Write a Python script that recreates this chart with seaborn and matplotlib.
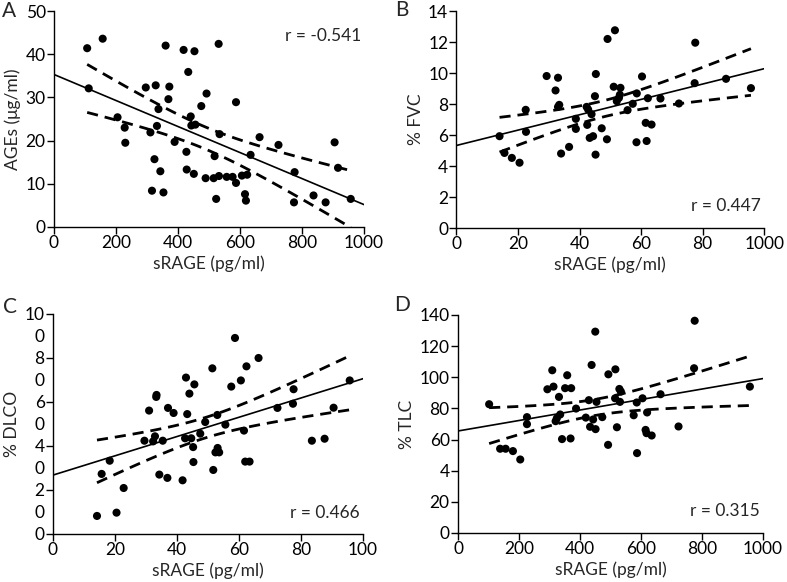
import numpy as np
import seaborn as sns
import matplotlib
matplotlib.use("Agg")
import matplotlib.pyplot as plt

# ---- data ----
# A: sRAGE (pg/ml) vs AGEs (ug/ml)
a_x = [107, 157, 112, 360, 418, 453, 531, 433, 296, 328, 372, 369, 337, 492, 475, 587,
       205, 228, 230, 311, 332, 389, 441, 443, 456, 534, 663, 724, 905, 916, 634, 518,
       427, 324, 343, 428, 451, 489, 515, 532, 557, 576, 587, 606, 623, 616, 619, 523,
       316, 353, 776, 774, 837, 876, 957]
a_y = [41.4, 43.6, 32.1, 42.0, 41.0, 40.7, 42.4, 35.9, 32.3, 32.8, 32.5, 29.6, 27.3, 30.9, 28.0, 28.9,
       25.4, 23.0, 19.5, 21.9, 23.4, 19.7, 25.6, 23.5, 23.7, 21.5, 20.8, 19.0, 19.6, 13.7, 16.7, 16.4,
       17.4, 15.7, 12.9, 13.3, 12.3, 11.3, 11.3, 11.8, 11.6, 11.6, 10.2, 11.9, 12.1, 7.6, 6.1, 6.5,
       8.4, 8.0, 12.7, 5.7, 7.3, 5.7, 6.5]

# B: sRAGE vs % FVC
b_x = [14.0, 15.6, 18.0, 20.5, 22.5, 22.6, 29.3, 32.2, 33.0, 33.0, 33.4, 34.0, 36.6, 38.8,
       42.3, 42.8, 38.8, 43.9, 42.5, 43.3, 44.4, 45.0, 45.2, 45.3, 47.2, 48.9, 49.1, 51.5,
       51.1, 52.1, 52.8, 53.3, 53.1, 55.6, 57.3, 58.5, 58.6, 60.3, 61.8, 61.5, 62.2, 63.4,
       66.3, 72.3, 77.6, 77.4, 87.6, 95.7]
b_y = [5.93, 4.85, 4.53, 4.22, 7.63, 6.21, 9.81, 8.88, 9.70, 7.82, 7.95, 4.81, 5.24, 7.05,
       7.82, 7.65, 6.40, 7.35, 6.66, 5.82, 5.93, 8.51, 4.74, 9.94, 6.44, 5.73, 12.2, 12.76,
       9.12, 8.19, 8.40, 9.05, 8.60, 7.61, 8.02, 5.54, 8.69, 9.78, 5.62, 6.79, 8.38, 6.68,
       8.36, 8.04, 11.96, 9.35, 9.63, 9.03]

# C: sRAGE vs % DLCO
c_x = [14.2, 15.7, 18.3, 20.5, 22.8, 29.5, 31.0, 32.3, 32.9, 33.3, 33.4, 34.3, 35.4, 37.1,
       36.9, 38.9, 41.8, 42.6, 42.9, 43.3, 44.0, 44.6, 45.2, 45.6, 45.3, 47.5, 49.1, 51.4,
       51.7, 52.4, 53.0, 53.1, 53.6, 55.6, 57.5, 58.7, 60.6, 61.6, 62.4, 62.0, 63.4, 66.3,
       72.4, 77.6, 77.4, 83.5, 87.6, 90.5, 95.7]
c_y = [0.82, 2.73, 3.33, 0.97, 2.09, 4.24, 5.61, 4.21, 4.44, 6.23, 6.32, 2.70, 4.24, 5.73,
       2.55, 5.50, 2.44, 4.35, 7.11, 5.45, 6.38, 4.35, 3.95, 6.80, 3.27, 4.56, 5.09, 7.53,
       2.91, 3.71, 5.41, 3.91, 3.71, 4.97, 6.70, 8.91, 6.98, 4.70, 7.62, 3.29, 3.29, 8.00,
       5.73, 6.58, 5.92, 4.24, 4.33, 5.74, 6.98]

# D: sRAGE vs % TLC
d_x = [102, 138, 156, 180, 204, 226, 226, 293, 309, 313, 320, 324, 331, 335, 341, 351,
       358, 371, 369, 387, 419, 429, 433, 438, 443, 450, 451, 454, 473, 492, 493, 516,
       515, 521, 529, 531, 534, 576, 587, 586, 605, 615, 618, 620, 635, 664, 723, 774,
       776, 957]
d_y = [82.7, 54.1, 54.1, 52.6, 47.2, 74.4, 69.9, 92.3, 104.5, 94.0, 71.8, 73.7, 87.4, 76.1, 60.3, 93.0,
       101.3, 93.0, 60.7, 79.9, 74.1, 85.3, 68.2, 107.9, 72.9, 129.3, 66.7, 84.2, 74.4, 56.6, 101.9, 105.1,
       86.5, 67.9, 92.5, 84.2, 90.8, 75.6, 51.3, 83.8, 86.5, 66.2, 64.1, 77.4, 62.6, 89.1, 68.4, 105.8,
       136.3, 94.0]

a_xticks = [0, 200, 400, 600, 800, 1000]
a_yticks = [0, 10, 20, 30, 40, 50]
b_xticks = [0, 20, 40, 60, 80, 100]
b_xlabels = ["0", "20", "40", "60", "80", "1000"]
b_yticks = [0, 2, 4, 6, 8, 10, 12, 14]
c_xticks = [0, 20, 40, 60, 80, 100]
c_yticks = [0, 1, 2, 3, 4, 5, 6, 7, 8, 9, 10]
c_ylabels = ["0", "0", "2", "0", "4", "0", "6", "0", "8", "0", "10"]
d_xticks = [0, 200, 400, 600, 800, 1000]
d_yticks = [0, 20, 40, 60, 80, 100, 120, 140]
d_ylabels = ["0", "20", "4", "60", "80", "100", "120", "140"]

sns.set_style("ticks")
plt.rcParams['font.family'] = ['Lato', 'DejaVu Sans']
plt.rcParams['font.size'] = 12.5

FS = 12.5
W, H = 787, 582


def fit_lines(x, y):
    """least squares fit and 95% CI of the mean"""
    x = np.asarray(x, float)
    y = np.asarray(y, float)
    n = len(x)
    slope, icpt = np.polyfit(x, y, 1)
    resid = y - (slope * x + icpt)
    s = np.sqrt(np.sum(resid ** 2) / (n - 2))
    sxx = np.sum((x - x.mean()) ** 2)
    t = 2.01
    grid = np.linspace(x.min(), x.max(), 100)
    half = t * s * np.sqrt(1.0 / n + (grid - x.mean()) ** 2 / sxx)
    fit = slope * grid + icpt
    return slope, icpt, grid, fit - half, fit + half


def panel(ax, x, y, xticks, yticks, ylabel, rtext, rpos,
          xlabels=None, ylabels=None):
    sns.scatterplot(x=x, y=y, ax=ax, color="black", s=34, edgecolor="none", zorder=3)
    slope, icpt, grid, lo, hi = fit_lines(x, y)
    xs = np.array([xticks[0], xticks[-1]])
    ax.plot(xs, slope * xs + icpt, color="black", lw=1.2)
    ax.plot(grid, lo, color="black", lw=2, ls=(0, (4, 2.5)))
    ax.plot(grid, hi, color="black", lw=2, ls=(0, (4, 2.5)))
    ax.set_xlim(xticks[0], xticks[-1])
    ax.set_ylim(yticks[0], yticks[-1])
    ax.set_xticks(xticks)
    ax.set_yticks(yticks)
    if xlabels is not None:
        ax.set_xticklabels(xlabels)
    if ylabels is not None:
        ax.set_yticklabels(ylabels)
    ax.set_xlabel("sRAGE (pg/ml)", fontsize=FS, labelpad=3)
    ax.set_ylabel(ylabel, fontsize=FS, labelpad=3)
    ax.tick_params(labelsize=FS, length=5, width=1, colors="black", pad=1)
    for sp in ["left", "bottom"]:
        ax.spines[sp].set_linewidth(1)
        ax.spines[sp].set_color("black")
    sns.despine(ax=ax)
    ax.text(0.99, rpos, rtext, transform=ax.transAxes, ha="right", va="center", fontsize=FS)


fig = plt.figure(figsize=(7.87, 5.82), dpi=100)
ax_a = fig.add_axes([0.0686, 0.610, 0.394, 0.371])
ax_b = fig.add_axes([0.580, 0.608, 0.391, 0.373])
ax_c = fig.add_axes([0.0673, 0.0825, 0.394, 0.378])
ax_d = fig.add_axes([0.582, 0.0842, 0.3875, 0.3746])

panel(ax_a, a_x, a_y, a_xticks, a_yticks, "AGEs (μg/ml)", "r = -0.541", 0.885)
panel(ax_b, b_x, b_y, b_xticks, b_yticks, "% FVC", "r = 0.447", 0.10, xlabels=b_xlabels)
panel(ax_c, c_x, c_y, c_xticks, c_yticks, "% DLCO", "r = 0.466", 0.095, ylabels=c_ylabels)
panel(ax_d, d_x, d_y, d_xticks, d_yticks, "% TLC", "r = 0.315", 0.10, ylabels=d_ylabels)

# odd positions on C have labels but no tick marks
for i, tk in enumerate(ax_c.yaxis.get_major_ticks()):
    if i % 2 == 1:
        tk.tick1line.set_visible(False)

# panel letters, placed in figure pixels
for letter, px, py in [("A", 9, 11), ("B", 402, 10), ("C", 10, 307), ("D", 402, 305)]:
    fig.text(px / W, 1 - py / H, letter, ha="center", va="center", fontsize=15)

fig.savefig("out.png", dpi=100)
